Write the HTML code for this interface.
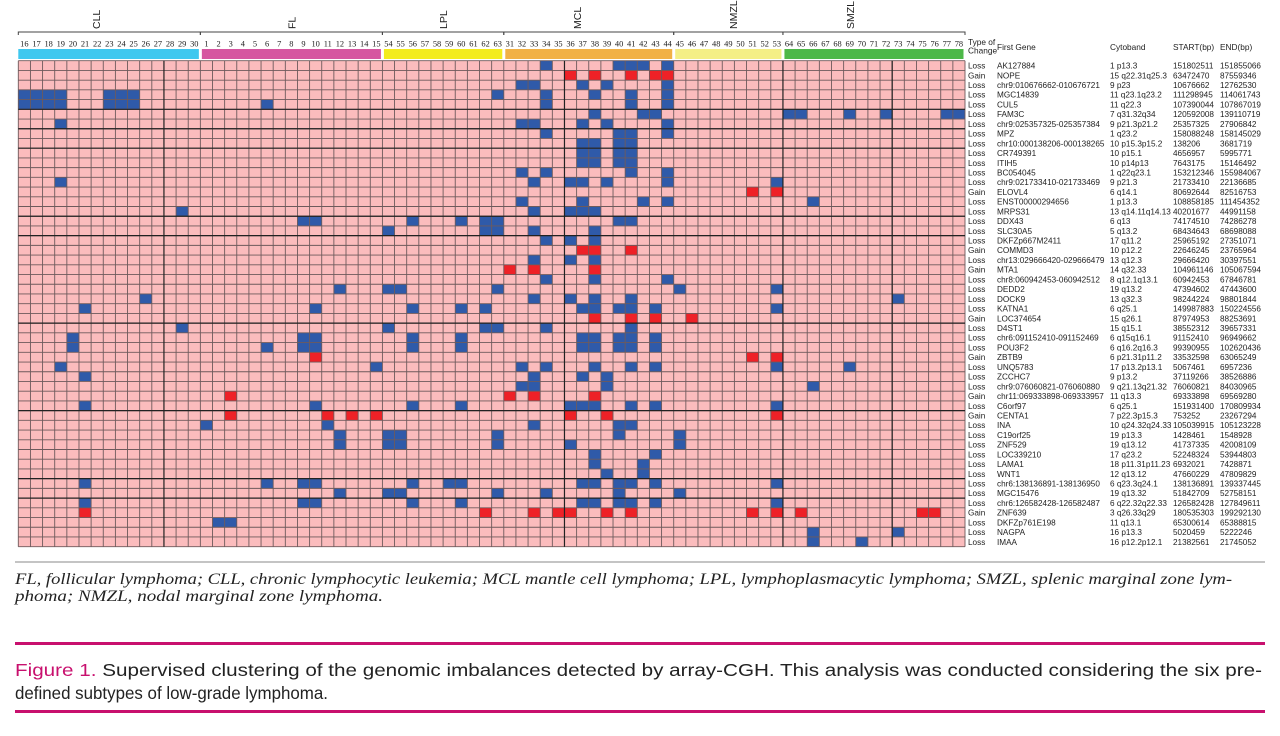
<!DOCTYPE html>
<html><head><meta charset="utf-8"><title>Supervised clustering heatmap</title>
<style>
html,body{margin:0;padding:0;background:#fff;width:1280px;height:736px;overflow:hidden}
svg{display:block}
.sans{font-family:"Liberation Sans",sans-serif}
.serif{font-family:"Liberation Serif",serif}
</style></head>
<body>
<svg id="fig" width="1280" height="736" viewBox="0 0 1280 736" xmlns="http://www.w3.org/2000/svg">
<g id="header"></g>
<g id="heat"></g>
<g id="table"></g>
<line x1="15" y1="562" x2="1265" y2="562" stroke="#8a8a8a" stroke-width="1"/>
<text class="serif" x="15" y="584" style="font-family:'Liberation Serif',serif;font-style:italic" font-size="15.5" fill="#222" textLength="1217" lengthAdjust="spacingAndGlyphs">FL, follicular lymphoma; CLL, chronic lymphocytic leukemia; MCL mantle cell lymphoma; LPL, lymphoplasmacytic lymphoma; SMZL, splenic marginal zone lym-</text>
<text class="serif" x="15" y="601" style="font-family:'Liberation Serif',serif;font-style:italic" font-size="15.5" fill="#222" textLength="368" lengthAdjust="spacingAndGlyphs">phoma; NMZL, nodal marginal zone lymphoma.</text>
<rect x="15" y="642" width="1250" height="3" fill="#c8106e"/>
<text class="sans" x="15" y="676" font-size="17.5" fill="#222" textLength="1247" lengthAdjust="spacingAndGlyphs"><tspan fill="#c8106e">Figure 1.</tspan> Supervised clustering of the genomic imbalances detected by array-CGH. This analysis was conducted considering the six pre-</text>
<text class="sans" x="15" y="699" font-size="17.5" fill="#222" textLength="313" lengthAdjust="spacingAndGlyphs">defined subtypes of low-grade lymphoma.</text>
<rect x="15" y="710" width="1250" height="3" fill="#c8106e"/>
</svg>
<script>
// ---- data ----
const sampleLabels = [16,17,18,19,20,21,22,23,24,25,26,27,28,29,30, 1,2,3,4,5,6,7,8,9,10,11,12,13,14,15, 54,55,56,57,58,59,60,61,62,63, 31,32,33,34,35,36,37,38,39,40,41,42,43,44, 45,46,47,48,49,50,51,52,53, 64,65,66,67,68,69,70,71,72,73,74,75,76,77,78];
const groupNames = ["CLL","FL","LPL","MCL","NMZL","SMZL"];
const groupSizes = [15,15,10,14,9,15];
const groupColors = ["#3fc8ef","#d656a0","#f3ec1e","#f1b145","#f4ef86","#4db848"];
const changeType = ["Loss","Gain","Loss","Loss","Loss","Loss","Loss","Loss","Loss","Loss","Loss","Loss","Loss","Gain","Loss","Loss","Loss","Loss","Loss","Gain","Loss","Gain","Loss","Loss","Loss","Loss","Gain","Loss","Loss","Loss","Gain","Loss","Loss","Loss","Gain","Loss","Gain","Loss","Loss","Loss","Loss","Loss","Loss","Loss","Loss","Loss","Gain","Loss","Loss","Loss"];
const genes = ["AK127884","NOPE","chr9:010676662-010676721","MGC14839","CUL5","FAM3C","chr9:025357325-025357384","MPZ","chr10:000138206-000138265","CR749391","ITIH5","BC054045","chr9:021733410-021733469","ELOVL4","ENST00000294656","MRPS31","DDX43","SLC30A5","DKFZp667M2411","COMMD3","chr13:029666420-029666479","MTA1","chr8:060942453-060942512","DEDD2","DOCK9","KATNA1","LOC374654","D4ST1","chr6:091152410-091152469","POU3F2","ZBTB9","UNQ5783","ZCCHC7","chr9:076060821-076060880","chr11:069333898-069333957","C6orf97","CENTA1","INA","C19orf25","ZNF529","LOC339210","LAMA1","WNT1","chr6:138136891-138136950","MGC15476","chr6:126582428-126582487","ZNF639","DKFZp761E198","NAGPA","IMAA"];
const cytobands = ["1 p13.3","15 q22.31q25.3","9 p23","11 q23.1q23.2","11 q22.3","7 q31.32q34","9 p21.3p21.2","1 q23.2","10 p15.3p15.2","10 p15.1","10 p14p13","1 q22q23.1","9 p21.3","6 q14.1","1 p13.3","13 q14.11q14.13","6 q13","5 q13.2","17 q11.2","10 p12.2","13 q12.3","14 q32.33","8 q12.1q13.1","19 q13.2","13 q32.3","6 q25.1","15 q26.1","15 q15.1","6 q15q16.1","6 q16.2q16.3","6 p21.31p11.2","17 p13.2p13.1","9 p13.2","9 q21.13q21.32","11 q13.3","6 q25.1","7 p22.3p15.3","10 q24.32q24.33","19 p13.3","19 q13.12","17 q23.2","18 p11.31p11.23","12 q13.12","6 q23.3q24.1","19 q13.32","6 q22.32q22.33","3 q26.33q29","11 q13.1","16 p13.3","16 p12.2p12.1"];
const startBp = ["151802511","63472470","10676662","111298945","107390044","120592008","25357325","158088248","138206","4656957","7643175","153212346","21733410","80692644","108858185","40201677","74174510","68434643","25965192","22646245","29666420","104961146","60942453","47394602","98244224","149987883","87974953","38552312","91152410","99390955","33532598","5067461","37119266","76060821","69333898","151931400","753252","105039915","1428461","41737335","52248324","6932021","47660229","138136891","51842709","126582428","180535303","65300614","5020459","21382561"];
const endBp = ["151855066","87559346","12762530","114061743","107867019","139110719","27906842","158145029","3681719","5995771","15146492","155984067","22136685","82516753","111454352","44991158","74286278","68698088","27351071","23765964","30397551","105067594","67846781","47443600","98801844","150224556","88253691","39657331","96949662","102620436","63065249","6957236","38526886","84030965","69569280","170809934","23267294","105123228","1548928","42008109","53944803","7428871","47809829","139337445","52758151","127849611","199292130","65388815","5222246","21745052"];
// loss (blue) cells: sample column indices per gene row
const lossCells = [
 [43,49,50,51,53],[],[41,42,46,48,53],[0,1,2,3,7,8,9,39,43,47,50,53],[0,1,2,3,7,8,9,20,43,50,53],
 [47,51,52,63,64,68,71,76,77],[3,41,42,46,48,53],[43,49,50,53],[46,47,49,50],[46,47,49,50],
 [46,47,49,50],[41,43,50,53],[3,42,45,46,48,53,62],[],[41,46,51,53,65],
 [13,42,45,46,47],[23,24,32,36,38,39,49,50],[30,38,39,42,47],[43,45,47],[],
 [42,45,47],[],[43,47,53],[26,30,31,39,54,62],[10,42,45,47,50,72],
 [5,24,32,36,38,46,47,49,50,52,62],[],[13,30,38,39,43,50],[4,23,24,32,36,46,47,49,50,52],[4,20,23,24,32,36,46,47,49,50,52],
 [],[3,29,41,43,47,50,52,62,68],[5,42,46,48],[41,42,48,65],[],
 [5,24,32,36,45,46,47,50,52,62],[],[15,25,42,49,50],[26,30,31,39,49,54],[26,30,31,39,45,54],
 [47,52],[47,51],[48,51],[5,20,23,24,32,35,36,46,47,49,50,52,62],[26,30,31,39,43,49,54],
 [5,23,24,32,36,46,47,49,50,52,62],[],[16,17],[65,72],[65,69]
];
// gain (red) cells
const gainCells = [
 [],[45,47,50,52,53],[],[],[],[],[],[],[],[],[],[],[],[60,62],[],
 [],[],[],[],[46,47,50],[],[40,42,47],[],[],[],
 [],[47,50,52,55],[],[],[],[24,60,62],[],[],[],[17,40,42,47],
 [],[17,25,27,29,45,48,62],[],[],[],[],[],[],[],[],
 [],[5,38,42,44,45,48,50,60,62,64,74,75],[],[],[]
];
const thickRows = [5,7,9,16,18,27,36,43,45];
const thickCols = [12,45,63,72];

// ---- layout ----
const NS="http://www.w3.org/2000/svg";
const X0=18.3, X1=965, Y0=60.7, RH=9.72;
const nCols=sampleLabels.length, nRows=genes.length;
const CW=(X1-X0)/nCols;
const xOf=c=>X0+c*CW, yOf=r=>Y0+r*RH;
function mk(tag,attrs,parent){const e=document.createElementNS(NS,tag);for(const k in attrs)e.setAttribute(k,attrs[k]);parent.appendChild(e);return e;}

const header=document.getElementById('header');
let start=0;
groupNames.forEach((g,i)=>{
  const a=xOf(start), b=xOf(start+groupSizes[i]);
  const bar=mk('rect',{x:a+(i?1.5:0),y:49,width:b-a-(i?1.5:0)-1.5,height:10,fill:groupColors[i]},header);
  
  
  const br=mk('path',{d:`M${a},35 L${a},32 L${b},32 L${b},35`,fill:'none',stroke:'#444','stroke-width':1},header);
  
  
  let cx=(a+b)/2; if(g==='CLL')cx=96; if(g==='MCL')cx=577; if(g==='NMZL')cx=733; if(g==='SMZL')cx=850;
  const t=mk('text',{class:'sans',x:0,y:0,transform:`translate(${cx+4},29) rotate(-90)`,'font-size':10.5,fill:'#222'},header);
  t.textContent=g;
  
  
  start+=groupSizes[i];
});
sampleLabels.forEach((s,c)=>{
  const t=mk('text',{class:'serif',x:xOf(c)+CW/2,y:46.5,'font-size':8.4,'text-anchor':'middle',fill:'#222'},header);
  t.textContent=s;
  
  
});

const heat=document.getElementById('heat');
const bg=mk('rect',{x:X0,y:Y0,width:X1-X0,height:nRows*RH,fill:'#fbbcbd'},heat);


lossCells.forEach((cols,r)=>cols.forEach(c=>{
  const e=mk('rect',{x:xOf(c),y:yOf(r),width:CW,height:RH,fill:'#2f5aa9'},heat);
  
  
}));
gainCells.forEach((cols,r)=>cols.forEach(c=>{
  const e=mk('rect',{x:xOf(c),y:yOf(r),width:CW,height:RH,fill:'#ee2127'},heat);
  
  
}));
let d='';
for(let r=0;r<=nRows;r++){d+=`M${X0},${yOf(r)}H${X1}`;}
for(let c=0;c<=nCols;c++){d+=`M${xOf(c)},${Y0}V${yOf(nRows)}`;}
const gl=mk('path',{d:d,stroke:'#6e5a5c','stroke-width':0.9,fill:'none'},heat);


let d2='';
thickRows.forEach(r=>{d2+=`M${X0},${yOf(r)}H${X1}`;});
thickCols.forEach(c=>{d2+=`M${xOf(c)},${Y0}V${yOf(nRows)}`;});
const tl=mk('path',{d:d2,stroke:'#222','stroke-width':1.2,fill:'none'},heat);



const table=document.getElementById('table');
const hdrs=[["Type of",968,45],["Change",968,53.5],["First Gene",997,50],["Cytoband",1110,50],["START(bp)",1173,50],["END(bp)",1220,50]];
hdrs.forEach(h=>{
  const t=mk('text',{class:'sans',x:h[1],y:h[2],'font-size':8.3,fill:'#222'},table);
  t.textContent=h[0];
  
  
});
const colX=[968,997,1110,1173,1220];
for(let r=0;r<nRows;r++){
  const vals=[changeType[r],genes[r],cytobands[r],startBp[r],endBp[r]];
  const names=['change-type','gene-name','cytoband','start-bp','end-bp'];
  vals.forEach((v,i)=>{
    const t=mk('text',{class:'sans',x:colX[i],y:yOf(r)+RH/2+3,'font-size':8.2,fill:'#222'},table);
    t.textContent=v;
    
    
  });
}
</script>
</body></html>
